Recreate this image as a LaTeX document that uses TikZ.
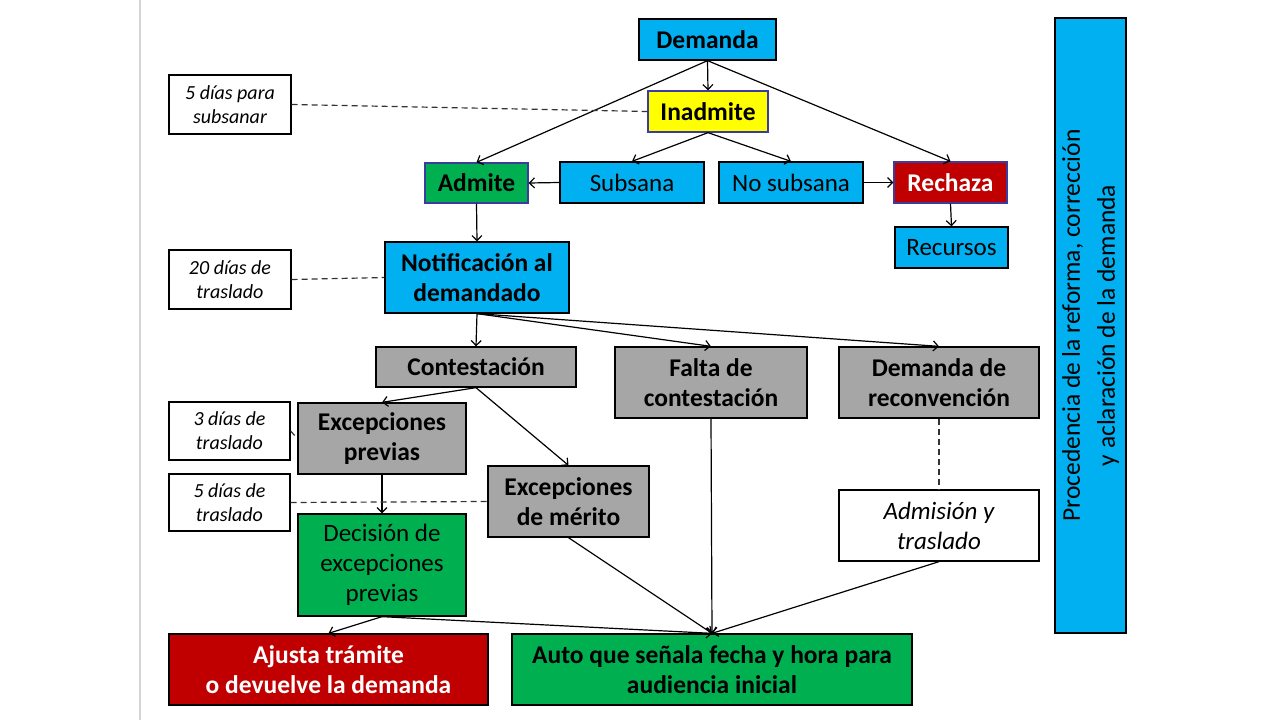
\documentclass[tikz,border=0pt]{standalone}
\usepackage{fontspec}
\setmainfont{Carlito}
\usepackage{tikz}
\usetikzlibrary{arrows.meta, positioning}
\definecolor{azulcaja}{HTML}{00B0F0}
\definecolor{verdecaja}{HTML}{00B050}
\definecolor{rojocaja}{HTML}{C00000}
\definecolor{grisc}{HTML}{A6A6A6}
\definecolor{amarillo}{HTML}{FFFF00}
\definecolor{bordeazul}{HTML}{3C3CA0}
\definecolor{lineaborde}{HTML}{D4D4D4}

\tikzset{
  caja/.style={draw=black, line width=1.3pt, inner sep=0pt, align=center,
    font=\fontsize{25}{30}\selectfont},
  negrita/.style={caja, font=\fontsize{25.5}{30}\selectfont\bfseries},
  nota/.style={draw=black, fill=white, line width=1.3pt, inner sep=0pt, align=center,
    font=\fontsize{20}{24}\selectfont\itshape},
  flecha/.style={-{Straight Barb[length=5pt,width=10pt]}, line width=1.2pt},
  discontinua/.style={line width=1.2pt, dash pattern=on 6pt off 4pt, black!80}
}

\begin{document}
\begin{tikzpicture}[x=1pt, y=-1pt]
    % Fondo y borde de la diapositiva
    \fill[white] (0,0) rectangle (1280,720);
    \useasboundingbox (0,0) rectangle (1280,720);
    \draw[lineaborde, line width=2pt] (140,0) -- (140,720);

    % Inicio
    \node[negrita, fill=azulcaja, minimum width=137, minimum height=41] (demanda) at (707.5,39.5) {Demanda};
    \node[negrita, fill=amarillo, draw=bordeazul, minimum width=120, minimum height=41] (inadmite) at (708,111.5) {Inadmite};
    \node[caja, fill=azulcaja, minimum width=144, minimum height=41] (subsana) at (632,182.5) {Subsana};
    \node[caja, fill=azulcaja, minimum width=144, minimum height=41] (nosubsana) at (791,182.5) {No subsana};
    \node[negrita, fill=rojocaja, draw=bordeazul, text=white, minimum width=113, minimum height=41] (rechaza) at (950.5,182.5) {Rechaza};
    \node[caja, fill=azulcaja, minimum width=113, minimum height=41] (recursos) at (951.5,247.5) {Recursos};
    \node[negrita, fill=verdecaja, draw=bordeazul, minimum width=103, minimum height=40] (admite) at (476.5,183) {Admite};
    \node[negrita, fill=azulcaja, minimum width=184, minimum height=71] (notif) at (477,277.5) {Notificación al\\demandado};

    % Plazos
    \node[nota, minimum width=122, minimum height=59] (plazosubsanar) at (230,104.5) {5 días para\\subsanar};
    \node[nota, minimum width=122, minimum height=59] (plazotraslado) at (230,279.5) {20 días de\\traslado};
    \node[nota, minimum width=121, minimum height=58] (plazoprevias) at (229.5,431) {3 días de\\traslado};
    \node[nota, minimum width=121, minimum height=57] (plazomerito) at (229.5,502.5) {5 días de\\traslado};

    % Respuesta del demandado
    \node[negrita, fill=grisc, minimum width=200, minimum height=40] (contest) at (476,367) {Contestación};
    \node[negrita, fill=grisc, minimum width=192, minimum height=71] (falta) at (711,382.5) {Falta de\\contestación};
    \node[negrita, fill=grisc, minimum width=200, minimum height=71] (reconv) at (939,382.5) {Demanda de\\reconvención};
    \node[negrita, fill=grisc, minimum width=168, minimum height=71] (excprev) at (382,438.5) {Excepciones\\previas};
    \node[negrita, fill=grisc, minimum width=161, minimum height=71] (excmer) at (568.5,501.5) {Excepciones\\de mérito};
    \node[caja, fill=verdecaja, minimum width=168, minimum height=102] (decision) at (382,565) {Decisión de\\excepciones\\previas};
    \node[caja, fill=white, font=\fontsize{25}{30}\selectfont\itshape, minimum width=200, minimum height=71] (admision) at (939,525.5) {Admisión y\\traslado};

    % Cierre
    \node[negrita, fill=rojocaja, text=white, minimum width=319, minimum height=71] (ajusta) at (328.5,669.5) {Ajusta trámite\\o devuelve la demanda};
    \node[negrita, fill=verdecaja, minimum width=400, minimum height=71] (auto) at (712,669.5) {Auto que señala fecha y hora para\\audiencia inicial};

    % Columna lateral
    \node[caja, fill=azulcaja, rotate=90, minimum width=615, minimum height=71,
      font=\fontsize{25.5}{35}\selectfont] (lateral) at (1090.5,325.5) {Procedencia de la reforma, corrección\\y aclaración de la demanda};

    % Flechas
    \draw[flecha] (demanda.south) -- (inadmite.north);
    \draw[flecha] (demanda.south) -- (admite.north);
    \draw[flecha] (demanda.south) -- (rechaza.north);
    \draw[flecha] (inadmite.south) -- (subsana.north);
    \draw[flecha] (inadmite.south) -- (nosubsana.north);
    \draw[flecha] (subsana.west) -- (admite.east);
    \draw[flecha] (nosubsana.east) -- (rechaza.west);
    \draw[flecha] (rechaza.south) -- (recursos.north);
    \draw[flecha] (admite.south) -- (notif.north);
    \draw[flecha] (notif.south) -- (contest.north);
    \draw[flecha] (notif.south) -- (falta.north);
    \draw[flecha] (notif.south) -- (reconv.north);
    \draw[flecha] (contest.south) -- (excprev.north);
    \draw[flecha] (contest.south) -- (excmer.north);
    \draw[flecha] (excprev.south) -- (decision.north);
    \draw[flecha] (decision.south) -- (ajusta.north);
    \draw[flecha] (decision.south) -- (auto.north);
    \draw[flecha] (excmer.south) -- (auto.north);
    \draw[flecha] (falta.south) -- (auto.north);
    \draw[flecha] (admision.south) -- (auto.north);

    % Lineas de plazo
    \draw[discontinua] (plazosubsanar.east) -- (inadmite.west);
    \draw[discontinua] (plazotraslado.east) -- (notif.west);
    \draw[discontinua] (plazoprevias.east) -- (excprev.west);
    \draw[discontinua] (plazomerito.east) -- (excmer.west);
    \draw[discontinua] (reconv.south) -- (admision.north);
\end{tikzpicture}
\end{document}
